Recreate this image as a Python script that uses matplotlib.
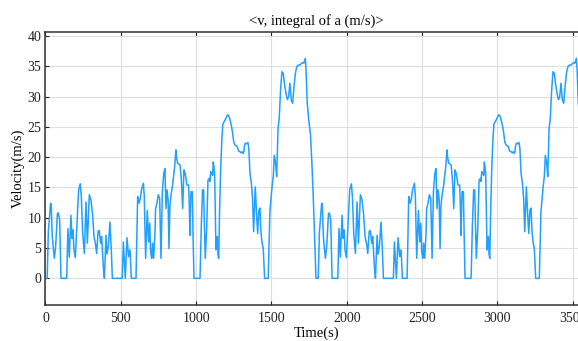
import numpy as np
import matplotlib
matplotlib.use('Agg')
import matplotlib.pyplot as plt

# one driving cycle (time in s, speed in m/s);
# the chart shows the same cycle twice, back to back
cycle_time = [0, 11, 19, 34, 38, 45, 52, 59, 68, 79, 85, 94, 103, 141, 149,
              158, 169, 176, 183, 189, 198, 207, 220, 231, 238, 247, 258,
              269, 278, 291, 302, 313, 322, 331, 340, 349, 357, 366, 373,
              384, 391, 402, 408, 417, 428, 437, 444, 510, 517, 530, 541,
              552, 561, 570, 601, 612, 621, 630, 638, 650, 656, 665, 676,
              685, 692, 698, 705, 711, 718, 727, 731, 740, 749, 758, 767,
              776, 785, 793, 800, 807, 814, 820, 826, 835, 842, 849, 858,
              866, 870, 877, 885, 893, 900, 904, 911, 919, 925, 931, 939,
              950, 955, 959, 966, 975, 980, 986, 1026, 1035, 1043, 1050,
              1055, 1061, 1070, 1079, 1088, 1092, 1097, 1105, 1110, 1114,
              1118, 1123, 1128, 1132, 1137, 1141, 1145, 1150, 1156, 1163,
              1172, 1178, 1185, 1192, 1203, 1210, 1216, 1222, 1229, 1236,
              1243, 1250, 1258, 1266, 1274, 1282, 1291, 1300, 1306, 1313,
              1318, 1322, 1327, 1335, 1344, 1350, 1358, 1367, 1375, 1382,
              1393, 1402, 1409, 1417, 1424, 1430, 1437, 1446, 1455, 1479,
              1490, 1504, 1513, 1519, 1528, 1535, 1544, 1552, 1561, 1570,
              1579, 1588, 1597, 1606, 1614, 1623, 1632, 1641, 1650, 1659,
              1668, 1679, 1690, 1701, 1710, 1715, 1721, 1725, 1730, 1738,
              1747, 1760, 1769, 1778, 1787, 1796, 1800]
cycle_speed = [0, 0, 7.7, 12.4, 12.2, 6.9, 4.9, 3.3, 5.5, 10.7, 10.8, 9.6, 0,
               0, 8.2, 3.5, 10.4, 6.6, 8.0, 4.7, 3.4, 8.0, 14.6, 15.6, 13.5,
               7.4, 4.1, 12.6, 5.8, 13.8, 12.9, 10.4, 6.9, 5.8, 4.1, 7.7,
               7.9, 5.8, 6.9, 1.9, 0, 7.1, 4.0, 5.2, 9.3, 4.7, 0, 0, 6.0, 0,
               6.7, 3.6, 4.7, 0, 0, 13.5, 12.4, 13.2, 14.7, 15.7, 13.5, 3.3,
               11.2, 6.0, 9.1, 4.4, 3.3, 5.8, 3.3, 7.4, 11.5, 12.4, 13.8,
               13.2, 3.3, 14.3, 17.3, 18.1, 11.5, 14.6, 13.0, 4.9, 12.0,
               14.0, 15.0, 16.5, 18.5, 21.2, 20.0, 19.0, 18.9, 18.7, 17.0,
               15.4, 11.5, 17.9, 17.5, 16.8, 15.4, 15.4, 12.0, 7.1, 14.3,
               14.3, 7.0, 0, 0, 9.0, 14.6, 14.6, 9.0, 3.3, 8.0, 16.2, 16.5,
               16.0, 17.6, 17.3, 17.0, 19.2, 18.5, 17.3, 10.0, 4.7, 6.5,
               6.9, 4.0, 3.3, 11.0, 17.9, 23.4, 25.5, 25.8, 26.1, 26.7,
               27.0, 26.8, 26.5, 25.8, 25.0, 23.9, 22.5, 22.0, 21.9, 21.7,
               21.0, 20.9, 20.7, 20.9, 20.6, 21.0, 22.0, 22.3, 22.2, 22.4,
               21.5, 17.3, 15.7, 13.2, 7.7, 15.1, 10.4, 7.4, 11.3, 11.6,
               8.0, 6.0, 4.9, 0, 0, 11.0, 15.0, 17.0, 20.3, 19.0, 16.8,
               24.7, 26.4, 31.1, 34.1, 33.8, 31.9, 30.5, 29.5, 29.9, 32.2,
               29.4, 28.9, 31.6, 33.8, 34.9, 35.2, 35.2, 35.5, 35.6, 35.5,
               36.0, 36.3, 34.4, 28.9, 26.4, 23.6, 19.0, 13.5, 6.9, 0, 0]
cycle_length = 1800
x_ticks = [0, 500, 1000, 1500, 2000, 2500, 3000, 3500]
y_ticks = [0, 5, 10, 15, 20, 25, 30, 35, 40]

time = np.concatenate([cycle_time, np.array(cycle_time) + cycle_length])
speed = np.concatenate([cycle_speed, cycle_speed])

plt.rcParams['font.family'] = ['Liberation Serif', 'DejaVu Serif']

fig = plt.figure(figsize=(5.78, 3.41), dpi=100)
# axes run past the right edge, the original picture is cropped there
ax = fig.add_axes([0.0787, 0.1056, 0.938, 0.8014])

ax.plot(time, speed, color='#22a0ff', linewidth=1.1)

ax.set_xlim(0, 3600)
ax.set_ylim(-4.4, 40.7)
ax.set_xticks(x_ticks)
ax.set_yticks(y_ticks)
ax.grid(True, color='#dedede', linewidth=0.8)
ax.set_axisbelow(True)

for side in ['left', 'bottom', 'top', 'right']:
    ax.spines[side].set_color('#333333')
    ax.spines[side].set_linewidth(1.1)
ax.tick_params(direction='in', length=3, top=True, right=True,
               labelsize=10, colors='#222222')
ax.tick_params(axis='x', pad=5)
ax.tick_params(axis='y', pad=3)

ax.set_title('<v, integral of a (m/s)>', fontsize=10.5, pad=5)
ax.set_xlabel('Time(s)', fontsize=10.5, labelpad=1)
ax.set_ylabel('Velocity(m/s)', fontsize=10.5, labelpad=2)

fig.savefig('out.png', dpi=100)
